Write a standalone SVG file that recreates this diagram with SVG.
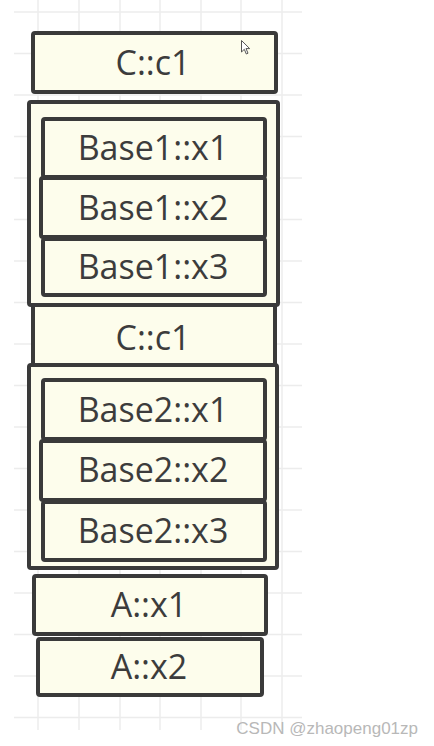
<svg xmlns="http://www.w3.org/2000/svg" width="434" height="746" viewBox="0 0 434 746">
<style>
.grid line{stroke:#ececec;stroke-width:1.5}
.box{fill:#fdfdec;stroke:#3a3a3a;stroke-width:4;rx:2}
.lbl{font-family:"Open Sans","Noto Sans",sans-serif;font-size:34px;fill:#3c3c3c;text-anchor:middle}
.wm{font-family:"Liberation Sans",Arial,sans-serif;font-size:17px;fill:#b8b8b8;text-anchor:end}
</style>
<rect width="434" height="746" fill="#ffffff"/>
<g class="grid">
<line x1="14" y1="12" x2="302" y2="12"/><line x1="14" y1="53.5" x2="302" y2="53.5"/><line x1="14" y1="95" x2="302" y2="95"/><line x1="14" y1="136.5" x2="302" y2="136.5"/><line x1="14" y1="178" x2="302" y2="178"/><line x1="14" y1="219.5" x2="302" y2="219.5"/><line x1="14" y1="261" x2="302" y2="261"/><line x1="14" y1="302.5" x2="302" y2="302.5"/><line x1="14" y1="344" x2="302" y2="344"/><line x1="14" y1="385.5" x2="302" y2="385.5"/><line x1="14" y1="427" x2="302" y2="427"/><line x1="14" y1="468.5" x2="302" y2="468.5"/><line x1="14" y1="510" x2="302" y2="510"/><line x1="14" y1="551.5" x2="302" y2="551.5"/><line x1="14" y1="593" x2="302" y2="593"/><line x1="14" y1="634.5" x2="302" y2="634.5"/><line x1="14" y1="676" x2="302" y2="676"/><line x1="14" y1="717.5" x2="302" y2="717.5"/>
<line x1="38" y1="0" x2="38" y2="730"/><line x1="79" y1="0" x2="79" y2="730"/><line x1="120" y1="0" x2="120" y2="730"/><line x1="160" y1="0" x2="160" y2="730"/><line x1="201" y1="0" x2="201" y2="730"/><line x1="241" y1="0" x2="241" y2="730"/><line x1="282" y1="0" x2="282" y2="730"/>
</g>
<g id="connectors"></g>
<g id="c1-top"><rect class="box" x="33" y="33" width="243" height="59"/><text class="lbl" x="153" y="75">C::c1</text></g>
<g id="base1">
<rect class="box" x="29" y="102" width="249" height="203"/>
<g id="base1-x1"><rect class="box" x="43" y="119" width="222" height="58"/><text class="lbl" x="153" y="160">Base1::x1</text></g>
<g id="base1-x2"><rect class="box" x="41" y="178" width="224" height="59"/><text class="lbl" x="153" y="220">Base1::x2</text></g>
<g id="base1-x3"><rect class="box" x="43" y="239" width="222" height="56"/><text class="lbl" x="153" y="279">Base1::x3</text></g>
</g>
<g id="c1-mid"><rect class="box" x="33" y="305" width="242" height="63"/><text class="lbl" x="153" y="350">C::c1</text></g>
<g id="base2">
<rect class="box" x="29" y="365" width="248" height="203"/>
<g id="base2-x1"><rect class="box" x="43" y="380" width="222" height="59"/><text class="lbl" x="153" y="422">Base2::x1</text></g>
<g id="base2-x2"><rect class="box" x="41" y="441" width="224" height="59"/><text class="lbl" x="153" y="482">Base2::x2</text></g>
<g id="base2-x3"><rect class="box" x="43" y="502" width="222" height="58"/><text class="lbl" x="153" y="543">Base2::x3</text></g>
</g>
<g id="a-x1"><rect class="box" x="34" y="576" width="232" height="58"/><text class="lbl" x="149" y="617">A::x1</text></g>
<g id="a-x2"><rect class="box" x="38" y="639" width="224" height="56"/><text class="lbl" x="149" y="679">A::x2</text></g>
<path d="M241.5 40.5 L241.5 52 L244.3 49.3 L246.3 54 L248 53.2 L246 48.6 L249.7 48.6 Z" fill="#ffffff" stroke="#555" stroke-width="1"/>
<text class="wm" x="418" y="734">CSDN @zhaopeng01zp</text>
</svg>
